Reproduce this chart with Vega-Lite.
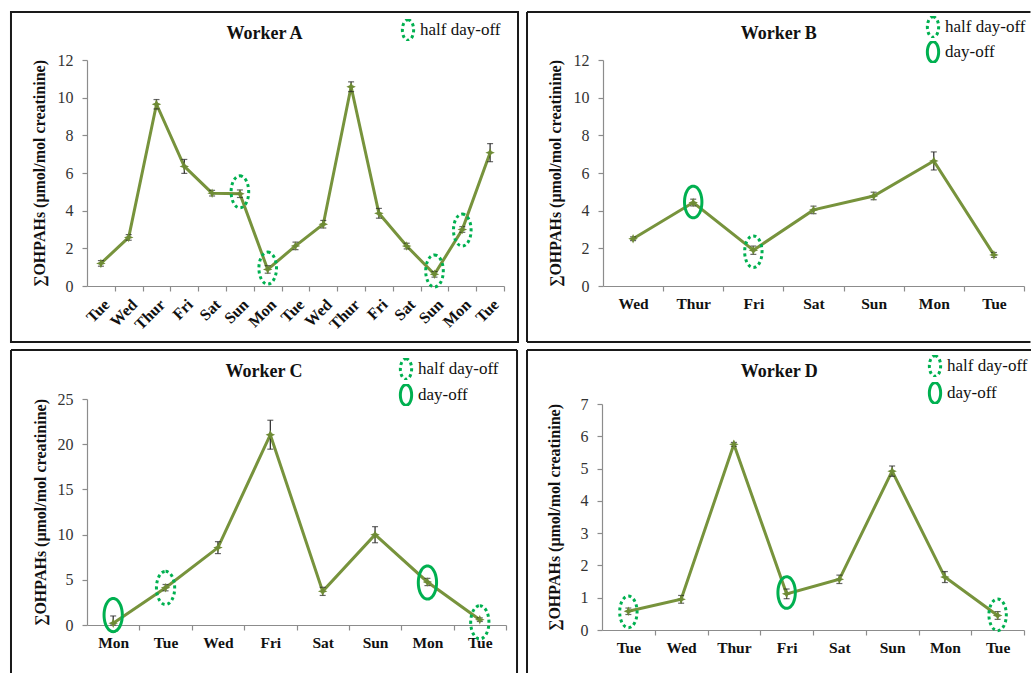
{
  "$schema": "https://vega.github.io/schema/vega-lite/v6.json",
  "background": "white",
  "padding": {"left": 9, "top": 10, "right": 0, "bottom": 0},
  "datasets": {
    "A": [
      {"i": 1, "d": "Tue", "v": 1.2, "lo": 1.05, "hi": 1.35},
      {"i": 2, "d": "Wed", "v": 2.58, "lo": 2.43, "hi": 2.73},
      {"i": 3, "d": "Thur", "v": 9.65, "lo": 9.4, "hi": 9.9},
      {"i": 4, "d": "Fri", "v": 6.35, "lo": 5.98, "hi": 6.72},
      {"i": 5, "d": "Sat", "v": 4.93, "lo": 4.78, "hi": 5.08},
      {"i": 6, "d": "Sun", "v": 4.9, "lo": 4.7, "hi": 5.1, "off": "half day-off", "ey": 5.0},
      {"i": 7, "d": "Mon", "v": 0.88, "lo": 0.68, "hi": 1.08, "off": "half day-off", "ey": 0.95},
      {"i": 8, "d": "Tue", "v": 2.13, "lo": 1.93, "hi": 2.33},
      {"i": 9, "d": "Wed", "v": 3.28, "lo": 3.08, "hi": 3.48},
      {"i": 10, "d": "Thur", "v": 10.58, "lo": 10.32, "hi": 10.84},
      {"i": 11, "d": "Fri", "v": 3.86, "lo": 3.6, "hi": 4.12},
      {"i": 12, "d": "Sat", "v": 2.12, "lo": 1.97, "hi": 2.27},
      {"i": 13, "d": "Sun", "v": 0.62, "lo": 0.47, "hi": 0.77, "off": "half day-off", "ey": 0.8},
      {"i": 14, "d": "Mon", "v": 3.0, "lo": 2.85, "hi": 3.15, "off": "half day-off", "ey": 2.97},
      {"i": 15, "d": "Tue", "v": 7.08, "lo": 6.6, "hi": 7.56}
    ],
    "B": [
      {"i": 1, "d": "Wed", "v": 2.51, "lo": 2.41, "hi": 2.61},
      {"i": 2, "d": "Thur", "v": 4.43, "lo": 4.25, "hi": 4.61, "off": "day-off", "ey": 4.46},
      {"i": 3, "d": "Fri", "v": 1.9, "lo": 1.68, "hi": 2.12, "off": "half day-off", "ey": 1.82},
      {"i": 4, "d": "Sat", "v": 4.04, "lo": 3.84, "hi": 4.24},
      {"i": 5, "d": "Sun", "v": 4.78, "lo": 4.58, "hi": 4.98},
      {"i": 6, "d": "Mon", "v": 6.64, "lo": 6.16, "hi": 7.12},
      {"i": 7, "d": "Tue", "v": 1.65, "lo": 1.52, "hi": 1.78}
    ],
    "C": [
      {"i": 1, "d": "Mon", "v": 0.2, "lo": 0.0, "hi": 1.0, "off": "day-off", "ey": 1.1},
      {"i": 2, "d": "Tue", "v": 4.13, "lo": 3.78, "hi": 4.48, "off": "half day-off", "ey": 4.1},
      {"i": 3, "d": "Wed", "v": 8.56, "lo": 7.9, "hi": 9.22},
      {"i": 4, "d": "Fri", "v": 21.05, "lo": 19.45, "hi": 22.65},
      {"i": 5, "d": "Sat", "v": 3.72, "lo": 3.27, "hi": 4.17},
      {"i": 6, "d": "Sun", "v": 9.99, "lo": 9.1, "hi": 10.88},
      {"i": 7, "d": "Mon", "v": 4.76, "lo": 4.36, "hi": 5.16, "off": "day-off", "ey": 4.7},
      {"i": 8, "d": "Tue", "v": 0.59, "lo": 0.39, "hi": 0.79, "off": "half day-off", "ey": 0.3}
    ],
    "D": [
      {"i": 1, "d": "Tue", "v": 0.58, "lo": 0.48, "hi": 0.68, "off": "half day-off", "ey": 0.56},
      {"i": 2, "d": "Wed", "v": 0.95, "lo": 0.83, "hi": 1.07},
      {"i": 3, "d": "Thur", "v": 5.75, "lo": 5.69, "hi": 5.81},
      {"i": 4, "d": "Fri", "v": 1.12, "lo": 0.97, "hi": 1.27, "off": "day-off", "ey": 1.16},
      {"i": 5, "d": "Sat", "v": 1.57, "lo": 1.44, "hi": 1.7},
      {"i": 6, "d": "Sun", "v": 4.92, "lo": 4.76, "hi": 5.08},
      {"i": 7, "d": "Mon", "v": 1.64, "lo": 1.47, "hi": 1.81},
      {"i": 8, "d": "Tue", "v": 0.45, "lo": 0.33, "hi": 0.57, "off": "half day-off", "ey": 0.47}
    ]
  },
  "columns": 2,
  "align": "none",
  "spacing": {"row": 5, "column": 6},
  "resolve": {"scale": {"strokeDash": "independent"}, "legend": {"strokeDash": "independent"}},
  "concat": [
    {
      "width": 417, "height": 226,
      "title": {"text": "Worker A"},
      "layer": [
        {
          "data": {"name": "A"},
          "mark": {"type": "line", "color": "#77933C", "strokeWidth": 3},
          "encoding": {
            "x": {"field": "i", "type": "quantitative", "scale": {"domain": [0.5, 15.5], "nice": false, "zero": false}, "axis": {"title": null, "values": [1, 2, 3, 4, 5, 6, 7, 8, 9, 10, 11, 12, 13, 14, 15], "tickCount": 60, "labelExpr": "['','Tue','Wed','Thur','Fri','Sat','Sun','Mon','Tue','Wed','Thur','Fri','Sat','Sun','Mon','Tue'][datum.value]", "tickOffset": 13.9, "labelOffset": -13.9, "labelAngle": -45, "labelOverlap": false, "labelFontSize": 16}},
            "y": {"field": "v", "type": "quantitative", "scale": {"domain": [0, 12], "nice": false, "zero": false}, "axis": {"values": [0, 2, 4, 6, 8, 10, 12], "format": "d", "tickCount": 60, "labelOverlap": false, "title": "∑OHPAHs (μmol/mol creatinine)"}}
          }
        },
        {
          "data": {"values": [{}]},
          "mark": {"type": "rect", "filled": false, "stroke": "#1a1a1a", "strokeWidth": 2},
          "encoding": {
            "x": {"datum": -2.2345, "type": "quantitative"},
            "x2": {"datum": 16.004},
            "y": {"datum": -2.9736, "type": "quantitative"},
            "y2": {"datum": 14.549}
          }
        },
        {
          "data": {"name": "A"},
          "mark": {"type": "rule", "color": "#262626", "strokeWidth": 1.2},
          "encoding": {"x": {"field": "i", "type": "quantitative"}, "y": {"field": "lo", "type": "quantitative"}, "y2": {"field": "hi"}}
        },
        {
          "data": {"name": "A"},
          "mark": {"type": "tick", "orient": "horizontal", "color": "#262626", "thickness": 1.2, "size": 6},
          "encoding": {"x": {"field": "i", "type": "quantitative"}, "y": {"field": "lo", "type": "quantitative"}}
        },
        {
          "data": {"name": "A"},
          "mark": {"type": "tick", "orient": "horizontal", "color": "#262626", "thickness": 1.2, "size": 6},
          "encoding": {"x": {"field": "i", "type": "quantitative"}, "y": {"field": "hi", "type": "quantitative"}}
        },
        {
          "data": {"name": "A"},
          "mark": {"type": "point", "shape": "M0,-1L0.3,-0.3L1,0L0.3,0.3L0,1L-0.3,0.3L-1,0L-0.3,-0.3Z", "filled": true, "color": "#6E8B35", "size": 90, "opacity": 1},
          "encoding": {"x": {"field": "i", "type": "quantitative"}, "y": {"field": "v", "type": "quantitative"}}
        },
        {
          "data": {"name": "A"},
          "transform": [{"filter": "isValid(datum.off)"}],
          "mark": {"type": "point", "shape": "M0,-1A0.55,1 0 0 1 0,1A0.55,1 0 0 1 0,-1Z", "filled": false, "stroke": "#00B050", "color": "#00B050", "strokeWidth": 3, "size": 1024, "opacity": 1},
          "encoding": {
            "x": {"field": "i", "type": "quantitative"},
            "y": {"field": "ey", "type": "quantitative"},
            "strokeDash": {"field": "off", "type": "nominal", "scale": {"domain": ["half day-off"], "range": [[3, 3]]}, "legend": {"legendX": 309, "legendY": -41, "rowPadding": 3}}
          }
        }
      ]
    },
    {
      "width": 421, "height": 226,
      "title": {"text": "Worker B"},
      "layer": [
        {
          "data": {"name": "B"},
          "mark": {"type": "line", "color": "#77933C", "strokeWidth": 3},
          "encoding": {
            "x": {"field": "i", "type": "quantitative", "scale": {"domain": [0.5, 7.5], "nice": false, "zero": false}, "axis": {"title": null, "values": [1, 2, 3, 4, 5, 6, 7], "tickCount": 60, "labelExpr": "['','Wed','Thur','Fri','Sat','Sun','Mon','Tue'][datum.value]", "tickOffset": 30.07, "labelOffset": -30.07, "labelAngle": 0, "labelOverlap": false}},
            "y": {"field": "v", "type": "quantitative", "scale": {"domain": [0, 12], "nice": false, "zero": false}, "axis": {"values": [0, 2, 4, 6, 8, 10, 12], "format": "d", "tickCount": 60, "labelOverlap": false, "title": "∑OHPAHs (μmol/mol creatinine)"}}
          }
        },
        {
          "data": {"values": [{}]},
          "mark": {"type": "rule", "color": "#1a1a1a", "strokeWidth": 2},
          "encoding": {"x": {"datum": -0.7635, "type": "quantitative"}, "x2": {"datum": 7.6078}, "y": {"datum": 14.549, "type": "quantitative"}}
        },
        {
          "data": {"values": [{}]},
          "mark": {"type": "rule", "color": "#1a1a1a", "strokeWidth": 2},
          "encoding": {"x": {"datum": -0.7635, "type": "quantitative"}, "x2": {"datum": 7.6078}, "y": {"datum": -2.9736, "type": "quantitative"}}
        },
        {
          "data": {"values": [{}]},
          "mark": {"type": "rule", "color": "#1a1a1a", "strokeWidth": 2},
          "encoding": {"x": {"datum": -0.7635, "type": "quantitative"}, "y": {"datum": -2.9736, "type": "quantitative"}, "y2": {"datum": 14.549}}
        },
        {
          "data": {"name": "B"},
          "mark": {"type": "rule", "color": "#262626", "strokeWidth": 1.2},
          "encoding": {"x": {"field": "i", "type": "quantitative"}, "y": {"field": "lo", "type": "quantitative"}, "y2": {"field": "hi"}}
        },
        {
          "data": {"name": "B"},
          "mark": {"type": "tick", "orient": "horizontal", "color": "#262626", "thickness": 1.2, "size": 6},
          "encoding": {"x": {"field": "i", "type": "quantitative"}, "y": {"field": "lo", "type": "quantitative"}}
        },
        {
          "data": {"name": "B"},
          "mark": {"type": "tick", "orient": "horizontal", "color": "#262626", "thickness": 1.2, "size": 6},
          "encoding": {"x": {"field": "i", "type": "quantitative"}, "y": {"field": "hi", "type": "quantitative"}}
        },
        {
          "data": {"name": "B"},
          "mark": {"type": "point", "shape": "M0,-1L0.3,-0.3L1,0L0.3,0.3L0,1L-0.3,0.3L-1,0L-0.3,-0.3Z", "filled": true, "color": "#6E8B35", "size": 90, "opacity": 1},
          "encoding": {"x": {"field": "i", "type": "quantitative"}, "y": {"field": "v", "type": "quantitative"}}
        },
        {
          "data": {"name": "B"},
          "transform": [{"filter": "isValid(datum.off)"}],
          "mark": {"type": "point", "shape": "M0,-1A0.55,1 0 0 1 0,1A0.55,1 0 0 1 0,-1Z", "filled": false, "stroke": "#00B050", "color": "#00B050", "strokeWidth": 3, "size": 1000, "opacity": 1},
          "encoding": {
            "x": {"field": "i", "type": "quantitative"},
            "y": {"field": "ey", "type": "quantitative"},
            "strokeDash": {"field": "off", "type": "nominal", "scale": {"domain": ["half day-off", "day-off"], "range": [[3, 3], [1, 0]]}, "legend": {"legendX": 318, "legendY": -44, "rowPadding": 3}}
          }
        }
      ]
    },
    {
      "width": 419, "height": 226,
      "title": {"text": "Worker C"},
      "layer": [
        {
          "data": {"name": "C"},
          "mark": {"type": "line", "color": "#77933C", "strokeWidth": 3},
          "encoding": {
            "x": {"field": "i", "type": "quantitative", "scale": {"domain": [0.5, 8.5], "nice": false, "zero": false}, "axis": {"title": null, "values": [1, 2, 3, 4, 5, 6, 7, 8], "tickCount": 60, "labelExpr": "['','Mon','Tue','Wed','Fri','Sat','Sun','Mon','Tue'][datum.value]", "tickOffset": 26.19, "labelOffset": -26.19, "labelAngle": 0, "labelOverlap": false}},
            "y": {"field": "v", "type": "quantitative", "scale": {"domain": [0, 25], "nice": false, "zero": false}, "axis": {"values": [0, 5, 10, 15, 20, 25], "format": "d", "tickCount": 60, "labelOverlap": false, "title": "∑OHPAHs (μmol/mol creatinine)", "titlePadding": 9}}
          }
        },
        {
          "data": {"values": [{}]},
          "mark": {"type": "rule", "color": "#1a1a1a", "strokeWidth": 2},
          "encoding": {"x": {"datum": -0.9512, "type": "quantitative"}, "x2": {"datum": 8.7104}, "y": {"datum": 30.42, "type": "quantitative"}}
        },
        {
          "data": {"values": [{}]},
          "mark": {"type": "rule", "color": "#1a1a1a", "strokeWidth": 2},
          "encoding": {"x": {"datum": -0.9512, "type": "quantitative"}, "y": {"datum": -5.31, "type": "quantitative"}, "y2": {"datum": 30.42}}
        },
        {
          "data": {"values": [{}]},
          "mark": {"type": "rule", "color": "#1a1a1a", "strokeWidth": 2},
          "encoding": {"x": {"datum": 8.7104, "type": "quantitative"}, "y": {"datum": -5.31, "type": "quantitative"}, "y2": {"datum": 30.42}}
        },
        {
          "data": {"name": "C"},
          "mark": {"type": "rule", "color": "#262626", "strokeWidth": 1.2},
          "encoding": {"x": {"field": "i", "type": "quantitative"}, "y": {"field": "lo", "type": "quantitative"}, "y2": {"field": "hi"}}
        },
        {
          "data": {"name": "C"},
          "mark": {"type": "tick", "orient": "horizontal", "color": "#262626", "thickness": 1.2, "size": 6},
          "encoding": {"x": {"field": "i", "type": "quantitative"}, "y": {"field": "lo", "type": "quantitative"}}
        },
        {
          "data": {"name": "C"},
          "mark": {"type": "tick", "orient": "horizontal", "color": "#262626", "thickness": 1.2, "size": 6},
          "encoding": {"x": {"field": "i", "type": "quantitative"}, "y": {"field": "hi", "type": "quantitative"}}
        },
        {
          "data": {"name": "C"},
          "mark": {"type": "point", "shape": "M0,-1L0.3,-0.3L1,0L0.3,0.3L0,1L-0.3,0.3L-1,0L-0.3,-0.3Z", "filled": true, "color": "#6E8B35", "size": 90, "opacity": 1},
          "encoding": {"x": {"field": "i", "type": "quantitative"}, "y": {"field": "v", "type": "quantitative"}}
        },
        {
          "data": {"name": "C"},
          "transform": [{"filter": "isValid(datum.off)"}],
          "mark": {"type": "point", "shape": "M0,-1A0.55,1 0 0 1 0,1A0.55,1 0 0 1 0,-1Z", "filled": false, "stroke": "#00B050", "color": "#00B050", "strokeWidth": 3, "size": 1100, "opacity": 1},
          "encoding": {
            "x": {"field": "i", "type": "quantitative"},
            "y": {"field": "ey", "type": "quantitative"},
            "strokeDash": {"field": "off", "type": "nominal", "scale": {"domain": ["half day-off", "day-off"], "range": [[3, 3], [1, 0]]}, "legend": {"legendX": 307, "legendY": -41, "rowPadding": 4}}
          }
        }
      ]
    },
    {
      "width": 422, "height": 226,
      "title": {"text": "Worker D"},
      "layer": [
        {
          "data": {"name": "D"},
          "mark": {"type": "line", "color": "#77933C", "strokeWidth": 3},
          "encoding": {
            "x": {"field": "i", "type": "quantitative", "scale": {"domain": [0.5, 8.5], "nice": false, "zero": false}, "axis": {"title": null, "values": [1, 2, 3, 4, 5, 6, 7, 8], "tickCount": 60, "labelExpr": "['','Tue','Wed','Thur','Fri','Sat','Sun','Mon','Tue'][datum.value]", "tickOffset": 26.375, "labelOffset": -26.375, "labelAngle": 0, "labelOverlap": false}},
            "y": {"field": "v", "type": "quantitative", "scale": {"domain": [0, 7], "nice": false, "zero": false}, "axis": {"values": [0, 1, 2, 3, 4, 5, 6, 7], "format": "d", "tickCount": 60, "labelOverlap": false, "title": "∑OHPAHs (μmol/mol creatinine)", "titlePadding": 18}}
          }
        },
        {
          "data": {"values": [{}]},
          "mark": {"type": "rule", "color": "#1a1a1a", "strokeWidth": 2},
          "encoding": {"x": {"datum": -0.9216, "type": "quantitative"}, "x2": {"datum": 8.6424}, "y": {"datum": 8.6723, "type": "quantitative"}}
        },
        {
          "data": {"values": [{}]},
          "mark": {"type": "rule", "color": "#1a1a1a", "strokeWidth": 2},
          "encoding": {"x": {"datum": -0.9216, "type": "quantitative"}, "y": {"datum": -1.3321, "type": "quantitative"}, "y2": {"datum": 8.6723}}
        },
        {
          "data": {"name": "D"},
          "mark": {"type": "rule", "color": "#262626", "strokeWidth": 1.2},
          "encoding": {"x": {"field": "i", "type": "quantitative"}, "y": {"field": "lo", "type": "quantitative"}, "y2": {"field": "hi"}}
        },
        {
          "data": {"name": "D"},
          "mark": {"type": "tick", "orient": "horizontal", "color": "#262626", "thickness": 1.2, "size": 6},
          "encoding": {"x": {"field": "i", "type": "quantitative"}, "y": {"field": "lo", "type": "quantitative"}}
        },
        {
          "data": {"name": "D"},
          "mark": {"type": "tick", "orient": "horizontal", "color": "#262626", "thickness": 1.2, "size": 6},
          "encoding": {"x": {"field": "i", "type": "quantitative"}, "y": {"field": "hi", "type": "quantitative"}}
        },
        {
          "data": {"name": "D"},
          "mark": {"type": "point", "shape": "M0,-1L0.3,-0.3L1,0L0.3,0.3L0,1L-0.3,0.3L-1,0L-0.3,-0.3Z", "filled": true, "color": "#6E8B35", "size": 90, "opacity": 1},
          "encoding": {"x": {"field": "i", "type": "quantitative"}, "y": {"field": "v", "type": "quantitative"}}
        },
        {
          "data": {"name": "D"},
          "transform": [{"filter": "isValid(datum.off)"}],
          "mark": {"type": "point", "shape": "M0,-1A0.55,1 0 0 1 0,1A0.55,1 0 0 1 0,-1Z", "filled": false, "stroke": "#00B050", "color": "#00B050", "strokeWidth": 3, "size": 1000, "opacity": 1},
          "encoding": {
            "x": {"field": "i", "type": "quantitative"},
            "y": {"field": "ey", "type": "quantitative"},
            "strokeDash": {"field": "off", "type": "nominal", "scale": {"domain": ["half day-off", "day-off"], "range": [[3, 3], [1, 0]]}, "legend": {"legendX": 321, "legendY": -49, "rowPadding": 5}}
          }
        }
      ]
    }
  ],
  "config": {
    "view": {"stroke": null},
    "font": "Liberation Serif",
    "title": {"font": "Liberation Serif", "fontSize": 18, "fontWeight": "bold", "color": "#111111", "anchor": "middle", "frame": "bounds", "offset": -32},
    "axis": {"domainColor": "#8c8c8c", "tickColor": "#8c8c8c", "domainWidth": 1.2, "tickWidth": 1.2, "tickSize": 5, "tickCount": 60, "grid": false, "labelOverlap": false, "labelFont": "Liberation Serif", "titleFont": "Liberation Serif"},
    "axisX": {"labelFontWeight": "bold", "labelFontSize": 15.5, "labelColor": "#111111", "labelPadding": 5},
    "axisY": {"labelFontSize": 16, "labelColor": "#333333", "labelPadding": 9, "titleFontSize": 16, "titleFontWeight": "bold", "titleColor": "#111111", "titlePadding": 10},
    "legend": {"orient": "none", "title": null, "padding": 0, "clipHeight": 22, "symbolType": "M0,-1A0.55,1 0 0 1 0,1A0.55,1 0 0 1 0,-1Z", "symbolSize": 420, "symbolStrokeWidth": 3, "symbolStrokeColor": "#00B050", "symbolFillColor": "transparent", "labelFont": "Liberation Serif", "labelFontSize": 17, "labelColor": "#111111", "labelOffset": 0}
  }
}
